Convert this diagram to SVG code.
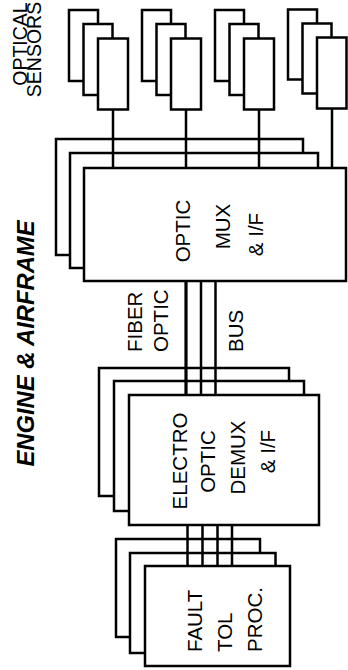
<svg xmlns="http://www.w3.org/2000/svg" width="348" height="670" viewBox="0 0 348 670">
<style>
.b{fill:#fff;stroke:#000;stroke-width:2.5}
.c{fill:none;stroke:#000;stroke-width:2.5}
text{font-family:"Liberation Sans",Arial,Helvetica,sans-serif;fill:#000;font-size:20.5px}
.m{text-anchor:middle}
.s{text-anchor:start}
.t{font-size:19.5px}
.e{font-size:24px;font-weight:bold;font-style:italic}
</style>
<rect width="348" height="670" fill="#fff"/>
<g id="sensor1">
<rect class="b" x="69" y="10" width="29" height="71"/>
<rect class="b" x="83.5" y="24" width="29" height="71"/>
<rect class="b" x="98" y="38.5" width="30" height="71"/>
</g>
<g id="sensor2">
<rect class="b" x="142" y="10" width="29" height="71"/>
<rect class="b" x="156.5" y="24" width="29" height="71"/>
<rect class="b" x="171" y="38.5" width="30" height="71"/>
</g>
<g id="sensor3">
<rect class="b" x="215" y="10" width="29" height="71"/>
<rect class="b" x="229.5" y="24" width="29" height="71"/>
<rect class="b" x="244" y="38.5" width="30" height="71"/>
</g>
<g id="sensor4">
<rect class="b" x="288" y="9.5" width="29" height="70"/>
<rect class="b" x="302.5" y="23.5" width="29" height="70"/>
<rect class="b" x="317" y="37.5" width="29.5" height="71"/>
</g>
<g id="label-sensors">
<text class="t m" transform="translate(27,44) rotate(-90)">OPTICAL</text>
<text class="t m" transform="translate(41,49.5) rotate(-90)">SENSORS</text>
</g>
<g id="label-engine">
<text class="e m" transform="translate(34,343.5) rotate(-90)" textLength="246" lengthAdjust="spacingAndGlyphs">ENGINE &amp; AIRFRAME</text>
</g>
<g id="mux">
<rect class="b" x="56" y="139" width="247" height="116"/>
<rect class="b" x="70" y="153" width="248" height="115"/>
<rect class="b" x="84" y="168" width="262" height="113"/>
<text class="m" transform="translate(190,231) rotate(-90)">OPTIC</text>
<text class="m" transform="translate(230,226.5) rotate(-90)">MUX</text>
<text class="m" transform="translate(263,234.5) rotate(-90)">&amp; I/F</text>
</g>
<g id="demux">
<rect class="b" x="99" y="368" width="190" height="128"/>
<rect class="b" x="114" y="381" width="190" height="130"/>
<rect class="b" x="129" y="395" width="190" height="130"/>
<text class="m" transform="translate(187,461) rotate(-90)">ELECTRO</text>
<text class="m" transform="translate(215,461.5) rotate(-90)">OPTIC</text>
<text class="m" transform="translate(245,457.5) rotate(-90)">DEMUX</text>
<text class="m" transform="translate(275,451.5) rotate(-90)">&amp; I/F</text>
</g>
<g id="fault">
<rect class="b" x="116" y="539" width="144" height="98"/>
<rect class="b" x="130" y="553" width="145.5" height="100"/>
<rect class="b" x="145" y="566" width="145" height="100"/>
<text class="s" transform="translate(202,652) rotate(-90)">FAULT</text>
<text class="s" transform="translate(232,652) rotate(-90)">TOL</text>
<text class="s" transform="translate(262,652) rotate(-90)">PROC.</text>
</g>
<g id="connectors">
<path class="c" d="M113 109.5V168M186 109.5V168M259 109.5V168M332 108.5V168"/>
<path class="c" d="M201 281V395M215.5 281V395"/>
<path class="c" d="M186 281V395" style="stroke-width:3.2"/>
<path class="c" d="M187.5 525V566M202.5 525V566M217.5 525V566M232 525V566"/>
</g>
<g id="label-bus">
<text class="s" transform="translate(142,352) rotate(-90)">FIBER</text>
<text class="s" transform="translate(168,352) rotate(-90)">OPTIC</text>
<text class="s" transform="translate(243,352) rotate(-90)">BUS</text>
</g>
</svg>
